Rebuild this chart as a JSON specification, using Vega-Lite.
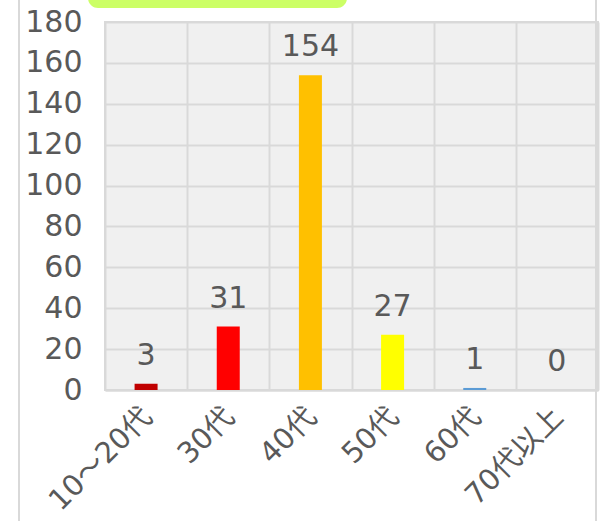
{
  "$schema": "https://vega.github.io/schema/vega-lite/v6.json",
  "width": 493,
  "height": 368,
  "autosize": {"type": "none"},
  "padding": {"left": 105, "top": 22, "right": 3, "bottom": 131},
  "background": "white",
  "config": {
    "font": "'DejaVu Sans', 'Noto Sans CJK JP'",
    "view": {"fill": "#F0F0F0", "stroke": "#D9D9D9", "strokeWidth": 2},
    "axis": {
      "labelFont": "'DejaVu Sans', 'Noto Sans CJK JP'",
      "labelFontSize": 30,
      "labelColor": "#595959",
      "gridColor": "#D9D9D9",
      "gridWidth": 2,
      "gridOpacity": 1
    }
  },
  "data": {
    "values": [
      {"age": "10～20代", "count": 3},
      {"age": "30代", "count": 31},
      {"age": "40代", "count": 154},
      {"age": "50代", "count": 27},
      {"age": "60代", "count": 1},
      {"age": "70代以上", "count": 0}
    ]
  },
  "encoding": {
    "x": {
      "field": "age",
      "type": "nominal",
      "sort": null,
      "scale": {"paddingInner": 0, "paddingOuter": 0},
      "axis": {
        "title": null,
        "labelAngle": -45,
        "ticks": false,
        "tickBand": "extent",
        "grid": true,
        "domainColor": "#D9D9D9",
        "domainWidth": 2,
        "labelFontSize": 29,
        "labelPadding": 12,
        "labelOffset": -9
      }
    },
    "y": {
      "field": "count",
      "type": "quantitative",
      "scale": {"domain": [0, 180], "nice": false},
      "axis": {
        "title": null,
        "values": [0, 20, 40, 60, 80, 100, 120, 140, 160, 180],
        "domain": false,
        "ticks": false,
        "labelPadding": 23,
        "grid": true
      }
    }
  },
  "layer": [
    {
      "mark": {"type": "bar", "size": 23, "strokeWidth": 0},
      "encoding": {
        "fill": {
          "field": "age",
          "type": "nominal",
          "sort": null,
          "scale": {
            "domain": ["10～20代", "30代", "40代", "50代", "60代", "70代以上"],
            "range": ["#C00000", "#FF0000", "#FFC000", "#FFFF00", "#5B9BD5", "#A5A5A5"]
          },
          "legend": null
        },
        "stroke": {
          "field": "count",
          "type": "quantitative",
          "legend": {
            "orient": "none",
            "legendX": -17,
            "legendY": -47,
            "direction": "horizontal",
            "gradientLength": 239,
            "gradientThickness": 10,
            "gradientOpacity": 0,
            "padding": 10,
            "labelExpr": "''",
            "labelFontSize": 1,
            "title": null,
            "fillColor": "#CCFF66",
            "cornerRadius": 10
          }
        }
      }
    },
    {
      "mark": {"type": "text", "dy": -19, "baseline": "alphabetic", "fontSize": 30, "font": "'DejaVu Sans', 'Noto Sans CJK JP'"},
      "encoding": {
        "text": {"field": "count", "type": "quantitative"},
        "color": {
          "field": "count",
          "type": "quantitative",
          "scale": {"range": ["#595959", "#595959"]},
          "legend": {
            "orient": "none",
            "legendX": -86,
            "legendY": -42,
            "direction": "vertical",
            "gradientLength": 360,
            "gradientThickness": 375,
            "gradientOpacity": 0,
            "padding": 100,
            "labelExpr": "''",
            "labelFontSize": 1,
            "title": null,
            "strokeColor": "#D9D9D9",
            "encode": {"legend": {"update": {"strokeWidth": {"value": 2}}}}
          }
        }
      }
    }
  ]
}
